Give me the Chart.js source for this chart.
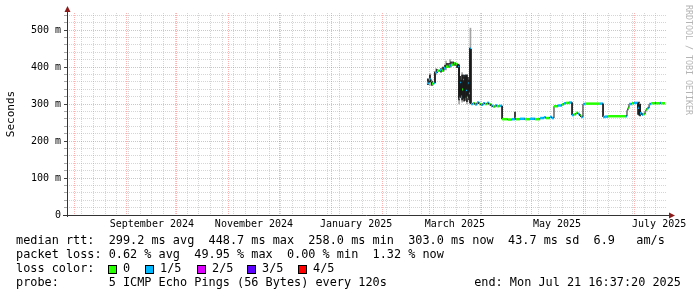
<!DOCTYPE html>
<html>
<head>
<meta charset="utf-8">
<script src="https://cdn.jsdelivr.net/npm/chart.js@4.4.1/dist/chart.umd.min.js"></script>
<style>
  html, body { margin: 0; padding: 0; background: #fff; }
  #wrap { width: 697px; height: 297px; }
</style>
</head>
<body>
<div id="wrap"><canvas id="grafico" width="697" height="297"></canvas></div>
<script>
// time is counted in days, 0 = 1 Jan 2025
const rangeStart = -157.7;
const rangeEnd = 200.7;

const monthStarts = [-153, -122, -92, -61, -31, 0, 31, 59, 90, 120, 151, 181];
const monthLabelDays = [-107, -46, 15, 74, 135, 196];
const monthLabels = ['September 2024', 'November 2024', 'January 2025', 'March 2025', 'May 2025', 'July 2025'];
const firstMonday = -149;

const yTicks = [0, 20, 40, 60, 80, 100, 120, 140, 160, 180, 200, 220, 240, 260, 280, 300,
  320, 340, 360, 380, 400, 420, 440, 460, 480, 500, 520, 540];

// median rtt (ms), one value per step, with loss bucket (0 = 0/5, 1 = 1/5 ...)
const medDays = [
  57.3, 58.5, 59.7, 60.3, 61.5, 62.1, 63.3, 65.1, 66.3, 67.5, 68.7, 70.5, 71.7, 73.5, 74.7, 75.9,
  76.5, 77.1, 77.7, 78.3, 78.9, 79.5, 80.0, 80.6, 81.2, 81.8, 82.4, 83.0,
  83.6, 84.8, 86.0, 87.2, 88.4, 89.6, 90.8, 92.0, 93.2, 94.4, 95.6, 96.8, 98.0, 99.2, 100.4,
  102.2, 105.7, 108.1, 109.9, 110.5, 112.9, 115.9, 118.9, 121.9, 124.9, 127.2, 128.4, 130.8, 132.0,
  133.2, 135.6, 138.0, 139.2, 140.4, 142.2, 144.0, 145.2, 146.4, 147.6, 148.7, 149.3,
  150.5, 151.7, 160.7, 162.5, 163.7, 165.5, 175.7,
  176.8, 177.4, 178.0, 179.8, 181.0, 183.4, 184.0, 184.6, 185.8, 186.4, 187.6, 188.2, 188.8, 190.0, 191.2, 193.5, 194.1, 196.5, 197.1
];
const medEnd = 199.5;
const medValues = [
  357, 366, 360, 355, 357, 386, 390, 392, 390, 397, 401, 404, 406, 410, 408, 400,
  316, 357, 320, 340, 365, 318, 378, 335, 319, 355, 330, 449,
  300, 302, 299, 304, 300, 298, 302, 300, 303, 299, 295, 293, 296, 294, 295,
  259, 258, 259, 261, 259, 260, 259, 260, 259, 262, 264, 262, 265, 262,
  294, 296, 299, 302, 303, 304, 270, 272, 276, 273, 268, 265,
  300, 301, 301, 265, 266, 267, 267,
  283, 290, 300, 302, 303, 290, 300, 275, 271, 273, 280, 285, 289, 300, 302, 303, 302, 303, 302
];
const medLoss = [
  1, 1, 0, 0, 1, 1, 0, 1, 0, 1, 0, 1, 0, 0, 0, 1,
  1, 1, 1, 0, 1, 0, 1, 1, 0, 1, 1, 1,
  1, 0, 1, 1, 0, 1, 1, 0, 1, 0, 1, 0, 1, 0, 1,
  0, 0, 1, 1, 0, 1, 0, 1, 0, 1, 1, 0, 1, 1,
  0, 1, 0, 1, 0, 1, 1, 0, 0, 1, 0, 1,
  1, 0, 1, 1, 1, 0, 1,
  1, 0, 1, 0, 1, 1, 1, 1, 1, 0, 1, 0, 1, 1, 0, 1, 0, 1, 0
];

// dark smoke (ms)
const smokeDays = [57.9, 59.1, 60.3, 62.1, 63.3, 65.7, 66.9, 68.1, 69.3, 70.5, 71.7, 72.9, 74.1, 75.3,
  76.5, 77.1, 77.7, 78.3, 78.9, 79.5, 80.0, 80.6, 81.2, 81.8, 82.4, 83.0, 109.9, 183.4, 184.0, 184.6];
const smokeLo = [352, 360, 350, 357, 385, 386, 388, 395, 398, 400, 402, 405, 404, 398,
  311, 330, 318, 311, 315, 308, 310, 318, 306, 318, 311, 303, 258, 272, 270, 268];
const smokeHi = [368, 378, 362, 387, 394, 396, 400, 405, 410, 410, 414, 414, 412, 408,
  405, 375, 365, 378, 378, 372, 378, 375, 378, 372, 365, 451, 278, 303, 305, 300];

// light smoke (ms)
const spreadDays = [59.1, 62.7, 68.7, 71.1, 76.5, 78.3, 81.2, 83.3];
const spreadLo = [350, 380, 392, 398, 300, 305, 300, 300];
const spreadHi = [382, 396, 416, 420, 408, 385, 380, 505];

const lossLabels = ['0', '1/5', '2/5', '3/5', '4/5'];
const lossColors = ['#26ff00', '#00b8ff', '#dd00ff', '#5e00ff', '#ff0000'];

const rttStats = ['299.2 ms avg', '448.7 ms max', '258.0 ms min', '303.0 ms now', '43.7 ms sd', '6.9   am/s'];
const lossStats = ['0.62 % avg', '49.95 % max', '0.00 % min', '1.32 % now'];
const probeText = '5 ICMP Echo Pings (56 Bytes) every 120s';
const endText = 'end: Mon Jul 21 16:37:20 2025';

const medianPts = [];
medDays.forEach((d, i) => {
  const next = i + 1 < medDays.length ? medDays[i + 1] : medEnd;
  medianPts.push({ x: d, y: medValues[i] }, { x: next, y: medValues[i] });
});

const weekTicks = [];
for (let d = firstMonday; d <= rangeEnd; d += 7) weekTicks.push(d);

const mono = "'DejaVu Sans Mono', monospace";
Chart.defaults.font.family = mono;
Chart.defaults.color = '#000';

const minorGrid = 'rgba(150,150,150,0.4)';
const majorGrid = 'rgba(255,80,80,0.45)';

const noPad = (s) => { s.paddingLeft = 0; s.paddingRight = 0; s.paddingTop = 0; s.paddingBottom = 0; };

const extras = {
  id: 'extras',
  beforeDraw(chart) {
    const c = chart.ctx;
    c.save();
    c.fillStyle = '#fff';
    c.fillRect(0, 0, chart.width, chart.height);
    c.restore();
  },
  afterDraw(chart) {
    const c = chart.ctx;
    const a = chart.chartArea;
    c.save();
    // axes
    c.strokeStyle = '#333';
    c.lineWidth = 1;
    c.beginPath();
    c.moveTo(a.left + 0.5, a.bottom + 2);
    c.lineTo(a.left + 0.5, 9);
    c.moveTo(a.left - 4, a.bottom + 0.5);
    c.lineTo(a.right + 3, a.bottom + 0.5);
    c.stroke();
    c.fillStyle = '#8b1a1a';
    c.beginPath();
    c.moveTo(a.left + 0.5, 6);
    c.lineTo(a.left - 2.5, 12);
    c.lineTo(a.left + 3.5, 12);
    c.closePath();
    c.fill();
    c.beginPath();
    c.moveTo(a.right + 8, a.bottom + 0.5);
    c.lineTo(a.right + 2, a.bottom - 2.5);
    c.lineTo(a.right + 2, a.bottom + 3.5);
    c.closePath();
    c.fill();

    // vertical texts
    c.fillStyle = '#000';
    c.font = '11px ' + mono;
    c.textAlign = 'center';
    c.textBaseline = 'middle';
    c.save();
    c.translate(11, 114);
    c.rotate(-Math.PI / 2);
    c.fillText('Seconds', 0, 0);
    c.restore();

    c.save();
    c.fillStyle = '#b4b4b4';
    c.font = '8.3px ' + mono;
    c.translate(688, 5);
    c.rotate(Math.PI / 2);
    c.textAlign = 'left';
    c.fillText('RRDTOOL / TOBI OETIKER', 0, 0);
    c.restore();

    // legend
    c.font = '11.85px ' + mono;
    c.textAlign = 'left';
    c.fillStyle = '#000';
    c.fillText('median rtt:  ' + rttStats.join('  '), 16, 241);
    c.fillText('packet loss: ' + lossStats.join('  '), 16, 255);
    c.fillText('loss color:', 16, 269);
    const boxX = [108, 145, 197, 247, 298];
    lossLabels.forEach((lbl, i) => {
      c.fillStyle = lossColors[i];
      c.fillRect(boxX[i], 265, 8, 8);
      c.strokeStyle = '#000';
      c.strokeRect(boxX[i] + 0.5, 265.5, 8, 8);
      c.fillStyle = '#000';
      c.fillText(lbl, boxX[i] + 15, 269);
    });
    c.fillText('probe:       ' + probeText, 16, 283);
    c.textAlign = 'right';
    c.fillText(endText, 681, 283);
    c.restore();
  }
};

const ctx = document.getElementById('grafico');
new Chart(ctx, {
  type: 'line',
  data: {
    datasets: [
      {
        type: 'line',
        label: 'median rtt',
        data: medianPts,
        order: 0,
        pointRadius: 0,
        borderWidth: 2.5,
        borderCapStyle: 'butt',
        fill: false,
        tension: 0,
        segment: {
          borderColor: (s) => s.p0DataIndex % 2 === 0 ? lossColors[medLoss[s.p0DataIndex / 2]] : '#1a1a1a',
          borderWidth: (s) => s.p0DataIndex % 2 === 0 ? 2.5 : 1
        }
      },
      {
        type: 'bar',
        label: 'smoke',
        data: smokeDays.map((d, i) => ({ x: d, y: [smokeLo[i], smokeHi[i]] })),
        backgroundColor: '#1c1c1c',
        barThickness: 1,
        stack: 'smoke',
        order: 1
      },
      {
        type: 'bar',
        label: 'spread',
        data: spreadDays.map((d, i) => ({ x: d, y: [spreadLo[i], spreadHi[i]] })),
        backgroundColor: '#a4a4a4',
        barThickness: 1,
        stack: 'smoke',
        order: 2
      }
    ]
  },
  options: {
    responsive: false,
    animation: false,
    devicePixelRatio: 1,
    events: [],
    layout: { padding: { left: 0, top: 13, right: 30, bottom: 0 } },
    plugins: { legend: { display: false }, tooltip: { enabled: false } },
    scales: {
      xw: {
        type: 'linear', position: 'bottom', min: rangeStart, max: rangeEnd,
        grid: { color: minorGrid, drawTicks: false },
        border: { display: false, dash: [1, 1] },
        ticks: { display: false },
        afterBuildTicks: (s) => { s.ticks = weekTicks.map((v) => ({ value: v })); },
        afterFit: (s) => { s.height = 0; noPad(s); }
      },
      xm: {
        type: 'linear', position: 'bottom', min: rangeStart, max: rangeEnd,
        grid: { color: majorGrid, drawTicks: false },
        border: { display: false, dash: [1, 1] },
        ticks: { display: false },
        afterBuildTicks: (s) => { s.ticks = monthStarts.map((v) => ({ value: v })); },
        afterFit: (s) => { s.height = 0; noPad(s); }
      },
      x: {
        type: 'linear', position: 'bottom', min: rangeStart, max: rangeEnd,
        offset: false,
        grid: { display: false, drawTicks: false },
        border: { display: false },
        ticks: {
          autoSkip: false, maxRotation: 0, minRotation: 0, padding: 3,
          font: { size: 10 },
          callback: (v, i) => monthLabels[i]
        },
        afterBuildTicks: (s) => { s.ticks = monthLabelDays.map((v) => ({ value: v })); },
        afterFit: (s) => { s.height = 82; noPad(s); }
      },
      y: {
        type: 'linear', min: 0, max: 546, stacked: false,
        grid: {
          color: (c) => c.tick.value % 100 === 0 ? majorGrid : minorGrid,
          tickColor: (c) => c.tick.value % 100 === 0 ? '#444' : '#aaa',
          tickLength: 3
        },
        border: { display: false, dash: [1, 1] },
        ticks: {
          autoSkip: false, padding: 3,
          font: { size: 10 },
          callback: (v) => v === 0 ? '0' : (v % 100 === 0 ? v + ' m' : '')
        },
        afterBuildTicks: (s) => { s.ticks = yTicks.map((v) => ({ value: v })); },
        afterFit: (s) => { s.width = 67; noPad(s); }
      }
    }
  },
  plugins: [extras]
});
</script>
</body>
</html>
